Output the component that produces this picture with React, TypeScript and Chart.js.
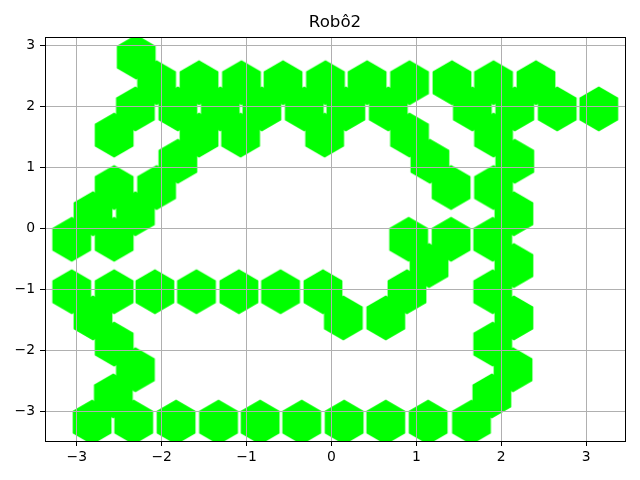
import React, { useEffect, useRef } from "react";
import { Chart, registerables } from "chart.js";

Chart.register(...registerables);

const TITLE = "Robô2";

// Robot positions (x, y)
const posX = [
  -2.30,
  -2.06, -1.56, -1.06, -0.57, -0.07, 0.42, 0.92, 1.42, 1.91, 2.41,
  -2.31, -1.81, -1.31, -0.82, -0.32, 0.17, 0.67, 1.66, 2.16, 2.66, 3.15,
  -2.56, -1.56, -1.07, -0.08, 0.92, 1.91,
  -1.81, 1.16, 2.16,
  -2.56, -2.06, 1.41, 1.91,
  -2.81, -2.31, 2.15,
  -3.06, -2.56, 0.91, 1.41, 1.90,
  1.15, 2.15,
  -3.06, -2.56, -2.08, -1.59, -1.09, -0.60, -0.10, 0.89, 1.90,
  -2.81, 0.14, 0.64, 2.15,
  -2.56, 1.90,
  -2.31, 2.14,
  -2.57, 1.89,
  -2.82, -2.33, -1.83, -1.33, -0.84, -0.35, 0.15, 0.64, 1.14, 1.65,
];
const posY = [
  2.81,
  2.39, 2.39, 2.39, 2.39, 2.39, 2.39, 2.39, 2.39, 2.39, 2.39,
  1.96, 1.96, 1.96, 1.96, 1.96, 1.96, 1.96, 1.96, 1.96, 1.96, 1.96,
  1.53, 1.53, 1.53, 1.53, 1.53, 1.53,
  1.10, 1.10, 1.10,
  0.67, 0.67, 0.67, 0.67,
  0.24, 0.24, 0.24,
  -0.18, -0.18, -0.18, -0.18, -0.18,
  -0.61, -0.61,
  -1.04, -1.04, -1.04, -1.04, -1.04, -1.04, -1.04, -1.04, -1.04,
  -1.47, -1.47, -1.47, -1.47,
  -1.90, -1.90,
  -2.32, -2.32,
  -2.75, -2.75,
  -3.18, -3.18, -3.18, -3.18, -3.18, -3.18, -3.18, -3.18, -3.18, -3.18,
];

const xTicks = [-3, -2, -1, 0, 1, 2, 3];
const yTicks = [-3, -2, -1, 0, 1, 2, 3];
const X_MIN = -3.375;
const X_MAX = 3.459;
const Y_MIN = -3.49;
const Y_MAX = 3.14;

const MARKER_COLOR = "#00ff00";
const FONT = "DejaVu Sans";

function makeHexagon(R: number, color: string): HTMLCanvasElement {
  const c = document.createElement("canvas");
  c.width = 42;
  c.height = 48;
  const ctx = c.getContext("2d")!;
  const cx = c.width / 2;
  const cy = c.height / 2;
  ctx.beginPath();
  for (let k = 0; k < 6; k++) {
    const a = (Math.PI / 180) * (90 + 60 * k);
    const px = cx + R * Math.cos(a);
    const py = cy - R * Math.sin(a);
    if (k === 0) ctx.moveTo(px, py);
    else ctx.lineTo(px, py);
  }
  ctx.closePath();
  ctx.fillStyle = color;
  ctx.fill();
  return c;
}

function fmt(v: number): string {
  return v < 0 ? "\u2212" + Math.abs(v) : String(v);
}

const framePlugin = {
  id: "frame",
  afterDraw(chart: any) {
    const { ctx, chartArea } = chart;
    ctx.save();
    ctx.strokeStyle = "#000";
    ctx.lineWidth = 1;
    ctx.strokeRect(
      Math.round(chartArea.left) + 0.5,
      Math.round(chartArea.top) + 0.5,
      Math.round(chartArea.right - chartArea.left),
      Math.round(chartArea.bottom - chartArea.top)
    );
    ctx.restore();
  },
};

export default function App() {
  const ref = useRef<HTMLCanvasElement | null>(null);

  useEffect(() => {
    if (!ref.current) return;
    const hex = makeHexagon(22.4, MARKER_COLOR);
    const data = posX.map((x, i) => ({ x, y: posY[i] }));
    const chart = new Chart(ref.current, {
      type: "scatter",
      data: {
        datasets: [
          {
            data,
            pointStyle: hex as any,
            pointRadius: 22,
            pointHoverRadius: 22,
            backgroundColor: MARKER_COLOR,
            borderColor: MARKER_COLOR,
            clip: 0 as any,
          },
        ],
      },
      options: {
        animation: false,
        responsive: false,
        events: [],
        layout: { autoPadding: false, padding: { left: 0, right: 15, top: 0, bottom: 0 } },
        plugins: {
          legend: { display: false },
          tooltip: { enabled: false },
          title: {
            display: true,
            text: TITLE,
            fullSize: false,
            color: "#000",
            font: { family: FONT, size: 16.67, weight: "normal" as any },
            padding: { top: 13, bottom: 4 },
          },
        },
        scales: {
          x: {
            type: "linear",
            min: X_MIN,
            max: X_MAX,
            afterBuildTicks: (scale: any) => {
              scale.ticks = xTicks.map((v) => ({ value: v }));
            },
            afterFit: (scale: any) => {
              scale.height = 39;
              scale.paddingLeft = 0;
              scale.paddingRight = 0;
            },
            grid: {
              color: "#b0b0b0",
              lineWidth: 1,
              drawTicks: true,
              tickLength: 5,
              tickColor: "#000",
              tickWidth: 1,
              z: 1,
            },
            border: { display: false },
            ticks: {
              color: "#000",
              font: { family: FONT, size: 13.9 },
              padding: 3,
              maxRotation: 0,
              callback: (v: any) => fmt(Number(v)),
            },
          },
          y: {
            type: "linear",
            min: Y_MIN,
            max: Y_MAX,
            afterBuildTicks: (scale: any) => {
              scale.ticks = yTicks.map((v) => ({ value: v }));
            },
            afterFit: (scale: any) => {
              scale.width = 45;
              scale.paddingTop = 0;
              scale.paddingBottom = 0;
            },
            grid: {
              color: "#b0b0b0",
              lineWidth: 1,
              drawTicks: true,
              tickLength: 5,
              tickColor: "#000",
              tickWidth: 1,
              z: 1,
            },
            border: { display: false },
            ticks: {
              color: "#000",
              font: { family: FONT, size: 13.9 },
              padding: 5,
              callback: (v: any) => fmt(Number(v)),
            },
          },
        },
      },
      plugins: [framePlugin],
    });
    return () => chart.destroy();
  }, []);

  return (
    <div style={{ position: "absolute", left: 0, top: 0, width: 640, height: 480, background: "#fff" }}>
      <canvas ref={ref} width={640} height={480} />
    </div>
  );
}
